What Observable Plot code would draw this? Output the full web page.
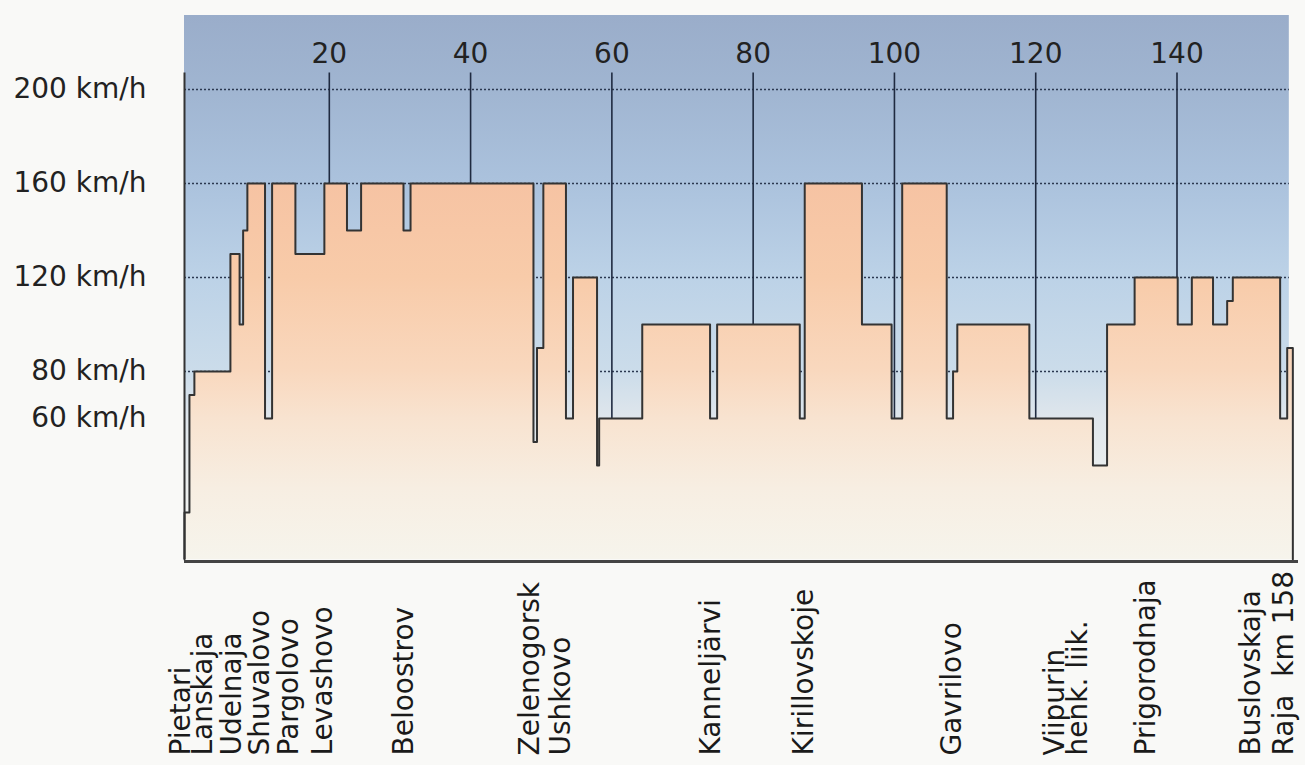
<!DOCTYPE html>
<html>
<head>
<meta charset="utf-8">
<script src="https://cdn.jsdelivr.net/npm/d3@7"></script>
<script src="https://cdn.jsdelivr.net/npm/@observablehq/plot@0.6"></script>
<style>
  html, body { margin: 0; padding: 0; background: #f9f9f7; }
  #chart svg { display: block; }
</style>
</head>
<body>
<div id="chart"></div>
<script>
// Speed profile: each step starts at stepKm[i] with speed stepSpeed[i] (km/h)
const stepKm = [-0.5, 0.2, 0.9, 6.0, 7.3, 7.8, 8.4, 10.9, 11.9, 15.2,
  19.3, 22.5, 24.5, 30.5, 31.5, 48.9, 49.4, 50.3, 53.5, 54.5,
  57.9, 58.2, 64.3, 73.9, 74.9, 86.6, 87.3, 95.4, 99.6, 101.1,
  107.4, 108.3, 108.9, 119.1, 128.1, 130.1, 134.0, 140.1, 142.1, 145.1,
  147.1, 147.9, 154.6, 155.6, 156.4];
const stepSpeed = [20, 70, 80, 130, 100, 140, 160, 60, 160, 130,
  160, 140, 160, 140, 160, 50, 90, 160, 60, 120,
  40, 60, 100, 60, 100, 60, 160, 100, 60, 160,
  60, 80, 100, 60, 40, 100, 120, 100, 120, 100,
  110, 120, 60, 90, 90];

// Station names and their km position
const stationNames = ["Pietari", "Lanskaja", "Udelnaja", "Shuvalovo", "Pargolovo", "Levashovo",
  "Beloostrov", "Zelenogorsk", "Ushkovo", "Kanneljärvi", "Kirillovskoje", "Gavrilovo",
  "Viipurin", "henk. liik.", "Prigorodnaja", "Buslovskaja", "Raja  km 158"];
const stationKm = [-1.1, 2.0, 6.1, 10.0, 14.2, 19.0,
  30.5, 48.2, 52.7, 73.9, 87.1, 108.0,
  122.6, 125.8, 135.4, 150.3, 155.0];

// Axis ticks
const kmTicks = [20, 40, 60, 80, 100, 120, 140];
const speedTicks = [60, 80, 120, 160, 200];
const gridSpeeds = [80, 120, 160, 200];

// Extents (data space)
const kmDomain = [-0.5, 157.2];
const bgKm = [-0.5, 155.9];
const speedTop = 231.5;
const gridTop = 207;

const profile = stepKm.map((km, i) => ({km, v: stepSpeed[i]}));
const outline = [{km: stepKm[0], v: 0}, ...profile, {km: stepKm[stepKm.length - 1], v: 0}];
const stations = stationNames.map((name, i) => ({name, km: stationKm[i]}));

const font = "DejaVu Sans";

const chart = Plot.plot({
  width: 1305,
  height: 765,
  marginLeft: 184,
  marginRight: 7,
  marginTop: 15,
  marginBottom: 206,
  style: {fontFamily: font, background: "transparent", color: "#222"},
  x: {domain: kmDomain},
  y: {domain: [0, speedTop]},
  marks: [
    Plot.rect([{x1: bgKm[0], x2: bgKm[1], y1: 0, y2: speedTop}],
      {x1: "x1", x2: "x2", y1: "y1", y2: "y2", fill: "url(#bgGrad)"}),
    Plot.ruleY(gridSpeeds, {x1: bgKm[0], x2: bgKm[1], stroke: "#2b3850", strokeWidth: 1.6, strokeDasharray: "2,2"}),
    Plot.ruleX(kmTicks, {y1: 0, y2: gridTop, stroke: "#1f2a40", strokeWidth: 1.6}),
    Plot.areaY(profile, {x: "km", y: "v", curve: "step-after", fill: "url(#orGrad)"}),
    Plot.line(outline, {x: "km", y: "v", curve: "step-after", stroke: "#333", strokeWidth: 2}),
    Plot.ruleX([kmDomain[0]], {y1: 0, y2: gridTop, stroke: "#333", strokeWidth: 2}),
    Plot.ruleY([0], {stroke: "#444", strokeWidth: 3, dy: 2}),
    Plot.axisY(speedTicks, {tickSize: 0, tickPadding: 38, fontSize: 28, tickFormat: d => `${d} km/h`, label: null, fill: "#222"}),
    Plot.axisX(kmTicks, {anchor: "top", tickSize: 0, tickPadding: 0, dy: 47, fontSize: 28, label: null, fill: "#222"}),
    Plot.text(stations, {x: "km", text: "name", rotate: -90, textAnchor: "start", frameAnchor: "bottom",
      dy: 196, dx: 10, fontSize: 28, fill: "#1a1a1a"})
  ]
});

// Gradients, positioned through the y scale
const ys = chart.scale("y");
const yTopPx = ys.apply(speedTop), yBotPx = ys.apply(0);
const off = v => (ys.apply(v) - yTopPx) / (yBotPx - yTopPx);
const svg = d3.select(chart);
const defs = svg.insert("defs", ":first-child");
function grad(id, stops) {
  const g = defs.append("linearGradient").attr("id", id)
    .attr("gradientUnits", "userSpaceOnUse")
    .attr("x1", 0).attr("x2", 0).attr("y1", yTopPx).attr("y2", yBotPx);
  stops.forEach(([v, c]) => g.append("stop").attr("offset", off(v)).attr("stop-color", c));
}
grad("bgGrad", [[231.5, "#9aadca"], [200, "#a0b5d1"], [160, "#abc2dd"], [120, "#bcd2e7"],
  [80, "#cbdcea"], [60, "#dfe6ec"], [30, "#edf0ef"], [0, "#f5f5f1"]]);
grad("orGrad", [[231.5, "#f5bea0"], [160, "#f6c3a3"], [120, "#f8cba9"], [80, "#f9d8be"],
  [60, "#f8e3d0"], [30, "#f7eee2"], [0, "#f6f4ec"]]);

document.getElementById("chart").appendChild(chart);
</script>
</body>
</html>
